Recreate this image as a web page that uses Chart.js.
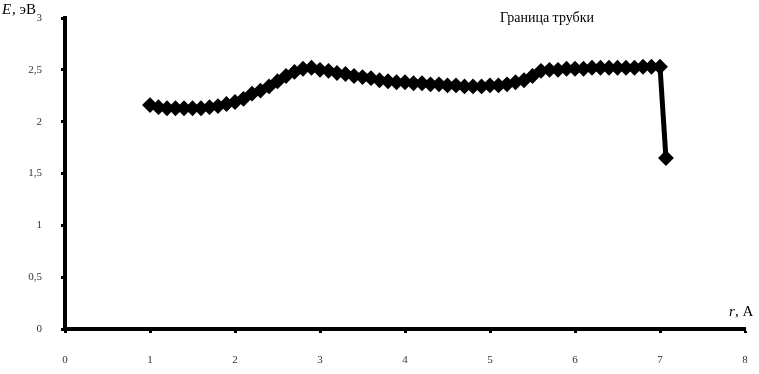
<!DOCTYPE html>
<html>
<head>
<meta charset="utf-8">
<script src="https://cdn.jsdelivr.net/npm/chart.js@4/dist/chart.umd.min.js"></script>
<style>
  html,body{margin:0;padding:0;background:#fff}
  #wrap{position:relative;width:759px;height:374px}
</style>
</head>
<body>
<div id="wrap"><canvas id="c" width="759" height="374"></canvas></div>
<script>
// радиус r (A) и энергия E (эВ)
const R_VALS = [1.0,1.1,1.2,1.3,1.4,1.5,1.6,1.7,1.8,1.9,
                2.0,2.1,2.2,2.3,2.4,2.5,2.6,2.7,2.8,2.9,
                3.0,3.1,3.2,3.3,3.4,3.5,3.6,3.7,3.8,3.9,
                4.0,4.1,4.2,4.3,4.4,4.5,4.6,4.7,4.8,4.9,
                5.0,5.1,5.2,5.3,5.4,5.5,5.6,5.7,5.8,5.9,
                6.0,6.1,6.2,6.3,6.4,6.5,6.6,6.7,6.8,6.9,
                7.0,7.07];
const E_VALS = [2.16,2.14,2.13,2.13,2.13,2.13,2.13,2.14,2.15,2.17,
                2.19,2.22,2.27,2.30,2.34,2.39,2.44,2.48,2.51,2.52,
                2.50,2.49,2.47,2.46,2.44,2.43,2.42,2.40,2.39,2.38,
                2.38,2.37,2.37,2.36,2.36,2.35,2.35,2.34,2.34,2.34,
                2.35,2.35,2.36,2.38,2.40,2.44,2.49,2.50,2.50,2.51,
                2.51,2.51,2.52,2.52,2.52,2.52,2.52,2.52,2.53,2.53,
                2.53,1.65];
const X_TICKS = [0,1,2,3,4,5,6,7,8];
const Y_TICKS = [0,0.5,1,1.5,2,2.5,3];

const SERIF = '"Liberation Serif","Times New Roman",serif';

// подписи осей и надпись "Граница трубки"
const labelsPlugin = {
  id:'labels',
  afterDraw(chart){
    const ctx = chart.ctx;
    ctx.save();
    ctx.fillStyle = '#000';
    ctx.textBaseline = 'alphabetic';
    ctx.font = 'italic 15px ' + SERIF;
    ctx.fillText('E', 2, 14);
    ctx.font = '15px ' + SERIF;
    ctx.fillText(', эВ', 12, 14);
    ctx.font = 'italic 15px ' + SERIF;
    ctx.fillText('r', 729, 316);
    ctx.font = '15px ' + SERIF;
    ctx.fillText(', A', 735, 316);
    ctx.font = '14px ' + SERIF;
    ctx.fillText('Граница трубки', 500, 22);
    ctx.restore();
  }
};

new Chart(document.getElementById('c'),{
  type:'scatter',
  data:{
    datasets:[{
      data: R_VALS.map((r,i)=>({x:r, y:E_VALS[i]})),
      showLine:true, borderColor:'#000', borderWidth:5, tension:0,
      pointStyle:'rectRot', pointRadius:4.4, pointBackgroundColor:'#000', pointBorderColor:'#000'
    }]
  },
  options:{
    responsive:false, animation:false,
    layout:{padding:{top:18, right:14, left:0, bottom:0}},
    plugins:{legend:{display:false}, tooltip:{enabled:false}},
    scales:{
      x:{
        type:'linear', min:0, max:8,
        afterBuildTicks:s=>{ s.ticks = X_TICKS.map(v=>({value:v})); },
        afterFit:s=>{ s.height = 45; s.paddingLeft = 0; s.paddingRight = 0; },
        border:{color:'#000', width:4},
        grid:{drawOnChartArea:false, tickLength:4, tickColor:'#000', tickWidth:3},
        ticks:{color:'#333', padding:21, font:{family:SERIF, size:11}}
      },
      y:{
        min:0, max:3,
        afterBuildTicks:s=>{ s.ticks = Y_TICKS.map(v=>({value:v})); },
        afterFit:s=>{ s.width = 65; s.paddingTop = 0; s.paddingBottom = 0; },
        border:{color:'#000', width:4},
        grid:{drawOnChartArea:false, tickLength:4, tickColor:'#000', tickWidth:3},
        ticks:{color:'#333', padding:19, font:{family:SERIF, size:11},
               callback:v=>String(v).replace('.',',')}
      }
    }
  },
  plugins:[labelsPlugin]
});
</script>
</body>
</html>
